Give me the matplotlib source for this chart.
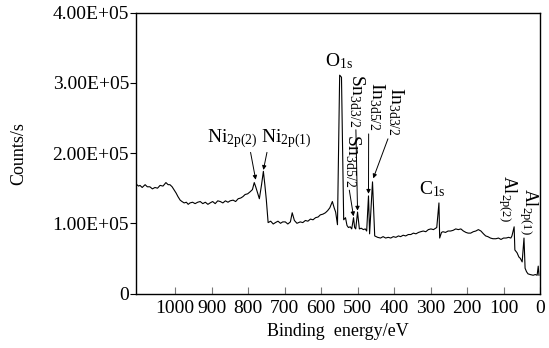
import matplotlib
matplotlib.use("Agg")
import matplotlib.pyplot as plt

plt.rcParams['font.family'] = ['Liberation Serif', 'DejaVu Serif']
plt.rcParams['mathtext.fontset'] = 'custom'
plt.rcParams['mathtext.rm'] = 'Liberation Serif'
plt.rcParams['mathtext.it'] = 'Liberation Serif:italic'

# XPS survey spectrum (binding energy in eV, counts/s)
energy = [1107, 1100, 1096, 1090, 1082, 1076, 1069, 1062, 1055, 1048, 1041, 1033, 1025,
          1019, 1014, 1008, 1003, 997, 992, 986, 981, 975, 969, 964, 959, 952, 945, 938,
          931, 924, 917, 910, 904, 897, 890, 883, 876, 869, 862, 855, 849, 841, 834, 827,
          820, 814, 808, 801, 794, 788, 783, 779, 775, 772, 769, 763, 758, 754, 750, 745,
          738, 731, 725, 718, 711, 705, 698, 691, 684, 679, 673, 666, 657, 650, 643, 636,
          629, 622, 615, 608, 602, 595, 588, 582, 576, 572, 569, 564, 560, 555, 549, 544,
          538, 533, 529, 525, 520, 516, 511, 508, 505, 500, 495, 490, 484, 479, 475, 470,
          467, 459, 453, 445, 437, 430, 423, 416, 409, 402, 395, 388, 382, 375, 368, 361,
          354, 347, 340, 333, 327, 320, 313, 306, 299, 292, 286, 283, 277, 275, 270, 266,
          259, 252, 245, 238, 231, 224, 217, 210, 203, 197, 190, 183, 176, 169, 162, 155,
          149, 143, 136, 129, 121, 114, 107, 100, 93, 86, 80, 77, 71, 69, 63, 58, 54, 49,
          44, 41, 37, 33, 27, 19, 13, 8, 5, 3]
counts = [1.56e5, 1.53e5, 1.54e5, 1.51e5, 1.55e5, 1.52e5, 1.52e5, 1.49e5, 1.51e5, 1.50e5,
          1.54e5, 1.53e5, 1.58e5, 1.55e5, 1.55e5, 1.52e5, 1.48e5, 1.43e5, 1.38e5, 1.33e5,
          1.31e5, 1.29e5, 1.30e5, 1.27e5, 1.29e5, 1.30e5, 1.28e5, 1.30e5, 1.31e5, 1.28e5,
          1.30e5, 1.27e5, 1.29e5, 1.31e5, 1.28e5, 1.32e5, 1.31e5, 1.29e5, 1.32e5, 1.30e5,
          1.32e5, 1.33e5, 1.31e5, 1.35e5, 1.36e5, 1.38e5, 1.41e5, 1.42e5, 1.45e5, 1.48e5,
          1.58e5, 1.52e5, 1.45e5, 1.40e5, 1.35e5, 1.55e5, 1.74e5, 1.55e5, 1.34e5, 1.01e5,
          1.03e5, 0.99e5, 1.01e5, 1.03e5, 1.00e5, 1.02e5, 1.02e5, 0.99e5, 1.02e5, 1.15e5,
          1.04e5, 1.00e5, 1.02e5, 1.01e5, 1.04e5, 1.03e5, 1.06e5, 1.05e5, 1.08e5, 1.09e5,
          1.12e5, 1.13e5, 1.15e5, 1.18e5, 1.22e5, 1.27e5, 1.31e5, 1.22e5, 1.16e5, 0.98e5,
          3.11e5, 3.08e5, 1.05e5, 1.08e5, 0.97e5, 0.94e5, 0.95e5, 0.92e5, 1.08e5, 0.94e5,
          0.92e5, 1.16e5, 0.92e5, 0.93e5, 0.91e5, 0.92e5, 0.89e5, 1.39e5, 0.85e5, 1.59e5,
          0.82e5, 0.80e5, 0.79e5, 0.81e5, 0.79e5, 0.80e5, 0.79e5, 0.81e5, 0.80e5, 0.82e5,
          0.81e5, 0.83e5, 0.82e5, 0.84e5, 0.84e5, 0.86e5, 0.85e5, 0.87e5, 0.88e5, 0.89e5,
          0.88e5, 0.91e5, 0.92e5, 0.91e5, 0.93e5, 0.94e5, 1.29e5, 0.79e5, 0.87e5, 0.88e5,
          0.87e5, 0.89e5, 0.89e5, 0.90e5, 0.92e5, 0.91e5, 0.92e5, 0.89e5, 0.87e5, 0.86e5,
          0.86e5, 0.88e5, 0.89e5, 0.91e5, 0.89e5, 0.85e5, 0.82e5, 0.81e5, 0.79e5, 0.78e5,
          0.78e5, 0.79e5, 0.77e5, 0.79e5, 0.79e5, 0.80e5, 0.79e5, 0.82e5, 0.95e5, 0.62e5,
          0.58e5, 0.52e5, 0.50e5, 0.45e5, 0.79e5, 0.36e5, 0.31e5, 0.28e5, 0.27e5, 0.26e5,
          0.27e5, 0.26e5, 0.39e5, 0.26e5]

xticks = [1000, 900, 800, 700, 600, 500, 400, 300, 200, 100, 0]
yticks = [0, 1e5, 2e5, 3e5, 4e5]
ytick_labels = ['0', '1.00E+05', '2.00E+05', '3.00E+05', '4.00E+05']

fig = plt.figure(figsize=(5.49, 3.48), dpi=100)
ax = fig.add_axes([0.2477, 0.1566, 0.736, 0.807])
ax.plot(energy, counts, color='black', lw=0.8)

ax.set_xlim(1107, 0)
ax.set_ylim(0, 4e5)
ax.set_xticks(xticks)
ax.set_xticklabels([str(t) for t in xticks])
ax.set_yticks(yticks)
ax.set_yticklabels(ytick_labels)
ax.tick_params(axis='x', direction='in', length=5, width=0.8, color='#777777',
               labelsize=14, pad=5)
ax.tick_params(axis='y', direction='out', length=4, width=0.8, labelsize=14, pad=1)
for s in ax.spines.values():
    s.set_linewidth(1.0)

ax.set_xlabel('Binding  energy/eV', fontsize=13, labelpad=4)
ax.set_ylabel('Counts/s', fontsize=13, labelpad=18)

def arr(rx, ry):
    return dict(arrowstyle='-|>', color='black', lw=0.7, mutation_scale=6,
                shrinkA=0, shrinkB=0, relpos=(rx, ry))

ax.annotate(r'$\mathrm{Ni}_{\mathrm{2p(2)}}$', xy=(779, 1.62e5), xytext=(843, 2.21e5),
            fontsize=14, ha='center', va='center', arrowprops=arr(0.85, 0.0))
ax.annotate(r'$\mathrm{Ni}_{\mathrm{2p(1)}}$', xy=(758, 1.76e5), xytext=(694, 2.21e5),
            fontsize=14, ha='center', va='center', arrowprops=arr(0.12, 0.0))
ax.text(552, 3.31e5, r'$\mathrm{O}_{\mathrm{1s}}$', fontsize=14, ha='center', va='center')
ax.annotate(r'$\mathrm{Sn}_{\mathrm{3d3/2}}$', xy=(500, 1.18e5), xytext=(502, 2.75e5),
            fontsize=14, ha='center', va='center', rotation=-90, arrowprops=arr(0.45, 0.0))
ax.annotate(r'$\mathrm{Sn}_{\mathrm{3d5/2}}$', xy=(511, 1.1e5), xytext=(513, 1.89e5),
            fontsize=14, ha='center', va='center', rotation=-90, arrowprops=arr(0.3, 0.0))
ax.annotate(r'$\mathrm{In}_{\mathrm{3d5/2}}$', xy=(470, 1.42e5), xytext=(448, 2.66e5),
            fontsize=14, ha='center', va='center', rotation=-90, arrowprops=arr(0.1, 0.0))
ax.annotate(r'$\mathrm{In}_{\mathrm{3d3/2}}$', xy=(457, 1.64e5), xytext=(395, 2.59e5),
            fontsize=14, ha='center', va='center', rotation=-90, arrowprops=arr(0.15, 0.0))
ax.text(295, 1.49e5, r'$\mathrm{C}_{\mathrm{1s}}$', fontsize=14, ha='center', va='center')
ax.text(89, 1.36e5, r'$\mathrm{Al}_{\mathrm{2p(2)}}$', fontsize=13, ha='center', va='center',
        rotation=-90)
ax.text(33, 1.17e5, r'$\mathrm{Al}_{\mathrm{2p(1)}}$', fontsize=13, ha='center', va='center',
        rotation=-90)

fig.savefig('out.png', dpi=100)
